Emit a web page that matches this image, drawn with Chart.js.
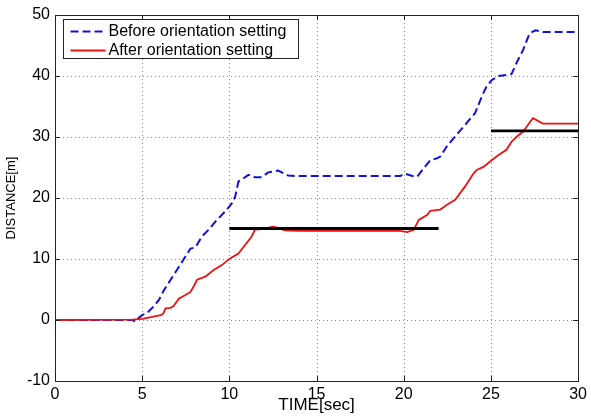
<!DOCTYPE html>
<html>
<head>
<meta charset="utf-8">
<script src="https://cdn.jsdelivr.net/npm/chart.js@4.4.1/dist/chart.umd.min.js"></script>
<style>
  html, body { margin: 0; padding: 0; background: #ffffff; }
  #wrap { width: 591px; height: 416px; }
</style>
</head>
<body>
<div id="wrap"><canvas id="c" width="591" height="416"></canvas></div>
<script>
// ---- data ----
const beforeTime = [0, 4.45, 4.55, 5.0, 5.3, 5.68, 5.96, 6.25, 6.63, 7.1, 7.48, 7.77, 8.05, 8.43, 8.81, 9.19, 9.76, 10.14, 10.33, 10.52, 10.71, 11.09, 11.47, 11.85, 12.23, 12.8, 13.37, 13.8, 19.8, 20.05, 20.5, 20.77, 21.15, 21.53, 21.9, 22.1, 22.48, 22.95, 23.52, 24.09, 24.47, 24.75, 25.04, 25.42, 26.18, 26.46, 26.85, 27.22, 27.56, 27.98, 30];
const beforeDist = [0, 0, -0.2, 0.8, 1.2, 2.3, 3.3, 4.9, 6.6, 8.7, 10.4, 11.7, 11.9, 13.7, 14.8, 16.1, 17.8, 19.1, 20.2, 22.7, 23.0, 23.8, 23.4, 23.4, 24.2, 24.5, 23.7, 23.6, 23.6, 24.0, 23.6, 23.5, 24.9, 26.2, 26.5, 26.8, 28.5, 30.1, 32.0, 33.9, 36.6, 38.3, 39.3, 40.0, 40.3, 42.1, 44.3, 47.0, 47.5, 47.2, 47.2];

const afterTime = [0, 4.43, 5.0, 5.58, 6.06, 6.2, 6.34, 6.63, 6.8, 7.1, 7.48, 7.77, 7.95, 8.15, 8.62, 9.1, 9.57, 10.04, 10.52, 10.9, 11.28, 11.47, 11.85, 12.51, 12.8, 13.18, 14.0, 19.8, 20.2, 20.58, 20.86, 21.34, 21.53, 22.1, 22.48, 22.95, 23.52, 24.0, 24.19, 24.57, 25.04, 25.42, 25.89, 26.18, 26.46, 26.85, 27.13, 27.41, 27.98, 30];
const afterDist = [0, 0.05, 0.2, 0.5, 0.8, 1.0, 1.9, 2.0, 2.3, 3.5, 4.1, 4.6, 5.5, 6.6, 7.1, 8.2, 9.0, 10.1, 10.9, 12.3, 13.7, 14.8, 14.9, 15.3, 15.1, 14.7, 14.6, 14.6, 14.4, 14.8, 16.4, 17.2, 17.9, 18.1, 18.9, 19.7, 21.9, 24.0, 24.6, 25.1, 26.2, 27.0, 27.9, 29.2, 30.0, 30.9, 32.0, 33.1, 32.2, 32.2];

const refTime1 = [10, 22];
const refDist1 = [15, 15];
const refTime2 = [25, 30];
const refDist2 = [31, 31];

const seriesLabels = ['Before orientation setting', 'After orientation setting'];
const xTicks = [0, 5, 10, 15, 20, 25, 30];
const yTicks = [-10, 0, 10, 20, 30, 40, 50];
const xTitle = 'TIME[sec]';
const yTitle = 'DISTANCE[m]';

const toPts = (xs, ys) => xs.map((x, i) => ({x: x, y: ys[i]}));
const FONT = "'Liberation Sans', Arial, sans-serif";

// dotted grid, frame, inward ticks and boxed legend
const framePlugin = {
  id: 'frame',
  beforeDatasetsDraw(chart) {
    const ctx = chart.ctx;
    const a = chart.chartArea;
    const xs = chart.scales.x, ys = chart.scales.y;
    ctx.save();
    ctx.strokeStyle = '#8a8a8a';
    ctx.lineWidth = 1;
    ctx.setLineDash([1, 3]);
    ctx.beginPath();
    xTicks.forEach(v => {
      const px = Math.round(xs.getPixelForValue(v)) + 0.5;
      ctx.moveTo(px, a.top); ctx.lineTo(px, a.bottom);
    });
    yTicks.forEach(v => {
      const py = Math.round(ys.getPixelForValue(v)) + 0.5;
      ctx.moveTo(a.left, py); ctx.lineTo(a.right, py);
    });
    ctx.stroke();
    ctx.restore();
  },
  afterDraw(chart) {
    const ctx = chart.ctx;
    const a = chart.chartArea;
    const xs = chart.scales.x, ys = chart.scales.y;
    ctx.save();
    ctx.strokeStyle = '#222222';
    ctx.lineWidth = 1;
    ctx.setLineDash([]);
    const len = 5;
    ctx.beginPath();
    xTicks.forEach(v => {
      const px = Math.round(xs.getPixelForValue(v)) + 0.5;
      ctx.moveTo(px, a.bottom); ctx.lineTo(px, a.bottom - len);
      ctx.moveTo(px, a.top); ctx.lineTo(px, a.top + len);
    });
    yTicks.forEach(v => {
      const py = Math.round(ys.getPixelForValue(v)) + 0.5;
      ctx.moveTo(a.left, py); ctx.lineTo(a.left + len, py);
      ctx.moveTo(a.right, py); ctx.lineTo(a.right - len, py);
    });
    ctx.stroke();
    ctx.strokeRect(Math.round(a.left) + 0.5, Math.round(a.top) + 0.5, Math.round(a.right - a.left), Math.round(a.bottom - a.top));

    // legend
    const L = Math.round(a.left) + 8.5, T = Math.round(a.top) + 4.5;
    const W = 235, H = 39;
    ctx.fillStyle = '#ffffff';
    ctx.fillRect(L, T, W, H);
    ctx.strokeStyle = '#222222';
    ctx.strokeRect(L, T, W, H);
    ctx.font = '16px ' + FONT;
    ctx.textBaseline = 'middle';
    ctx.textAlign = 'left';
    const rows = [T + 11.5, T + 30];
    [0, 1].forEach(i => {
      const ds = chart.data.datasets[i];
      const y = Math.round(rows[i]) + 0.5;
      ctx.strokeStyle = ds.borderColor;
      ctx.lineWidth = ds.borderWidth;
      ctx.setLineDash(ds.borderDash || []);
      ctx.beginPath();
      ctx.moveTo(L + 7, y);
      ctx.lineTo(L + 42, y);
      ctx.stroke();
      ctx.setLineDash([]);
      ctx.fillStyle = '#000000';
      ctx.fillText(ds.label, L + 45, rows[i] + 1);
    });
    ctx.restore();
  }
};

new Chart(document.getElementById('c'), {
  type: 'line',
  data: {
    datasets: [
      {
        label: seriesLabels[0],
        data: toPts(beforeTime, beforeDist),
        borderColor: '#1010e0',
        backgroundColor: '#1010e0',
        borderWidth: 2,
        borderDash: [8, 4],
        pointRadius: 0,
        tension: 0,
        order: 3
      },
      {
        label: seriesLabels[1],
        data: toPts(afterTime, afterDist),
        borderColor: '#ee1111',
        backgroundColor: '#ee1111',
        borderWidth: 1.8,
        pointRadius: 0,
        tension: 0,
        order: 2
      },
      {
        label: 'ref1',
        data: toPts(refTime1, refDist1),
        borderColor: '#000000',
        borderWidth: 2.8,
        pointRadius: 0,
        order: 1
      },
      {
        label: 'ref2',
        data: toPts(refTime2, refDist2),
        borderColor: '#000000',
        borderWidth: 2.8,
        pointRadius: 0,
        order: 1
      }
    ]
  },
  options: {
    responsive: false,
    animation: false,
    layout: { padding: { top: 15, right: 10, left: 0, bottom: 0 } },
    plugins: {
      tooltip: { enabled: false },
      legend: { display: false }
    },
    scales: {
      x: {
        type: 'linear',
        min: 0, max: 30,
        afterBuildTicks: (s) => { s.ticks = xTicks.map(v => ({value: v})); },
        afterFit: (s) => { s.height = 35; },
        ticks: { font: { family: FONT, size: 16 }, color: '#000000', padding: 4, maxRotation: 0 },
        grid: { display: false, drawTicks: false },
        border: { display: false },
        title: { display: true, text: xTitle, font: { family: FONT, size: 17 }, color: '#000000', padding: { top: 0, bottom: 0 } }
      },
      y: {
        type: 'linear',
        min: -10, max: 50,
        afterBuildTicks: (s) => { s.ticks = yTicks.map(v => ({value: v})); },
        afterFit: (s) => { s.width = 55; },
        ticks: { font: { family: FONT, size: 16 }, color: '#000000', padding: 5 },
        grid: { display: false, drawTicks: false },
        border: { display: false },
        title: { display: true, text: yTitle, font: { family: FONT, size: 13 }, color: '#000000', padding: { top: 4, bottom: 0 } }
      }
    }
  },
  plugins: [framePlugin]
});
</script>
</body>
</html>
